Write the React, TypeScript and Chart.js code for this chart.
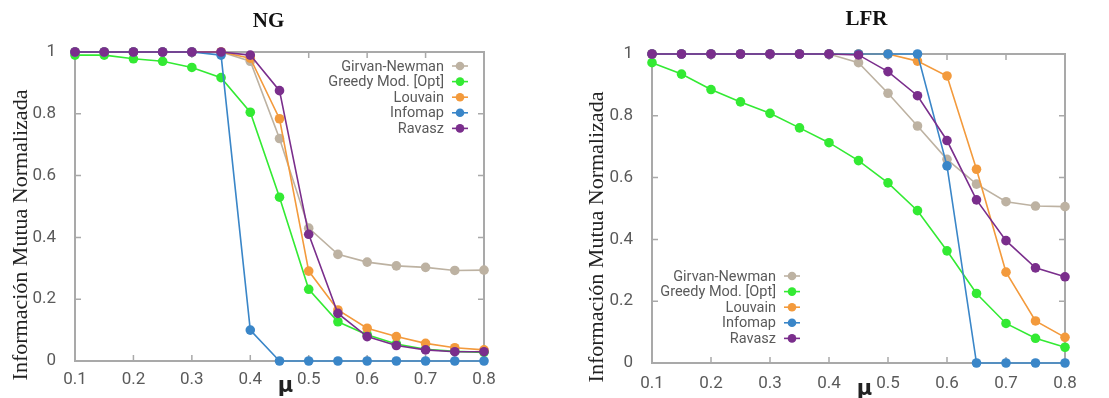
import React, { useEffect, useRef } from "react";
import { Chart, registerables } from "chart.js";

Chart.register(...registerables);

const mu = [0.1, 0.15, 0.2, 0.25, 0.3, 0.35, 0.4, 0.45, 0.5, 0.55, 0.6, 0.65, 0.7, 0.75, 0.8];
const xTicks = [0.1, 0.2, 0.3, 0.4, 0.5, 0.6, 0.7, 0.8];
const yTicks = [0, 0.2, 0.4, 0.6, 0.8, 1];
const seriesNames = ["Girvan-Newman", "Greedy Mod. [Opt]", "Louvain", "Infomap", "Ravasz"];
const seriesColors = ["#bdb2a2", "#33ea33", "#f39a3c", "#3a86c8", "#7a2e8c"];
const seriesOrder = [4, 3, 2, 1, 0];

// NG benchmark
const ngGirvan = [1, 1, 1, 1, 1, 1, 0.97, 0.72, 0.43, 0.345, 0.32, 0.308, 0.303, 0.293, 0.294];
const ngGreedy = [0.99, 0.99, 0.978, 0.97, 0.95, 0.917, 0.805, 0.53, 0.232, 0.127, 0.085, 0.055, 0.038, 0.031, 0.028];
const ngLouvain = [1, 1, 1, 1, 1, 1, 0.98, 0.784, 0.291, 0.165, 0.106, 0.079, 0.057, 0.043, 0.036];
const ngInfomap = [1, 1, 1, 1, 1, 0.99, 0.1, 0, 0, 0, 0, 0, 0, 0, 0];
const ngRavasz = [1, 1, 1, 1, 1, 1, 0.99, 0.875, 0.41, 0.154, 0.079, 0.05, 0.036, 0.03, 0.03];

// LFR benchmark
const lfrGirvan = [1, 1, 1, 1, 1, 1, 1, 0.972, 0.873, 0.767, 0.659, 0.579, 0.522, 0.508, 0.506];
const lfrGreedy = [0.972, 0.935, 0.885, 0.845, 0.808, 0.761, 0.713, 0.655, 0.583, 0.493, 0.363, 0.225, 0.128, 0.08, 0.051];
const lfrLouvain = [1, 1, 1, 1, 1, 1, 1, 1, 1, 0.977, 0.929, 0.627, 0.294, 0.136, 0.083];
const lfrInfomap = [1, 1, 1, 1, 1, 1, 1, 1, 1, 1, 0.638, 0, 0, 0, 0];
const lfrRavasz = [1, 1, 1, 1, 1, 1, 1, 0.997, 0.943, 0.865, 0.72, 0.528, 0.396, 0.308, 0.279];

const yTitle = "Información Mutua Normalizada";
const xTitle = "μ";

type PanelCfg = {
  title: string;
  series: number[][];
  width: number;
  padTop: number;
  padRight: number;
  yWidth: number;
  xHeight: number;
  xTickPad: number;
  titleDx: number;
  titleY: number;
  yTitleX: number;
  yTitleY: number;
  xTitleDx: number;
  xTitleDy: number;
  legendX: number;
  legendY: number;
};

function Panel({ cfg }: { cfg: PanelCfg }) {
  const ref = useRef<HTMLCanvasElement | null>(null);
  useEffect(() => {
    if (!ref.current) return;
    const datasets = cfg.series.map((vals, i) => ({
      label: seriesNames[i],
      data: mu.map((m, k) => ({ x: m, y: vals[k] })),
      borderColor: seriesColors[i],
      backgroundColor: seriesColors[i],
      pointBackgroundColor: seriesColors[i],
      pointBorderColor: seriesColors[i],
      borderWidth: 1.6,
      pointRadius: 4.8,
      pointBorderWidth: 0,
      order: seriesOrder[i],
      clip: false as any,
      tension: 0,
    }));

    const deco = {
      id: "deco",
      beforeDatasetsDraw(chart: any) {
        const { ctx, chartArea: a, scales } = chart;
        ctx.save();
        ctx.strokeStyle = "#a9a9a9";
        ctx.lineWidth = 2;
        ctx.strokeRect(a.left, a.top, a.right - a.left, a.bottom - a.top);
        ctx.lineWidth = 1.5;
        const L = 6;
        xTicks.forEach((t) => {
          const x = scales.x.getPixelForValue(t);
          ctx.beginPath();
          ctx.moveTo(x, a.bottom);
          ctx.lineTo(x, a.bottom - L);
          ctx.moveTo(x, a.top);
          ctx.lineTo(x, a.top + L);
          ctx.stroke();
        });
        yTicks.forEach((t) => {
          const y = scales.y.getPixelForValue(t);
          ctx.beginPath();
          ctx.moveTo(a.left, y);
          ctx.lineTo(a.left + L, y);
          ctx.moveTo(a.right, y);
          ctx.lineTo(a.right - L, y);
          ctx.stroke();
        });
        ctx.restore();
      },
      afterDraw(chart: any) {
        const { ctx, chartArea: a } = chart;
        ctx.save();
        // title
        ctx.fillStyle = "#111";
        ctx.font = "bold 21px 'Liberation Serif', serif";
        ctx.textAlign = "center";
        ctx.textBaseline = "middle";
        ctx.fillText(cfg.title, (a.left + a.right) / 2 + cfg.titleDx, cfg.titleY);
        // y title
        ctx.save();
        ctx.translate(cfg.yTitleX, cfg.yTitleY);
        ctx.rotate(-Math.PI / 2);
        ctx.font = "22px 'Liberation Serif', serif";
        ctx.fillStyle = "#222";
        ctx.fillText(yTitle, 0, 0);
        ctx.restore();
        // x title
        ctx.font = "bold 21px 'DejaVu Sans', sans-serif";
        ctx.fillStyle = "#222";
        ctx.fillText(xTitle, (a.left + a.right) / 2 + cfg.xTitleDx, a.bottom + cfg.xTitleDy);
        // legend
        ctx.font = "14.5px Roboto, sans-serif";
        ctx.textAlign = "right";
        seriesNames.forEach((name, i) => {
          const y = cfg.legendY + i * 15.6;
          ctx.fillStyle = "#5a5a5a";
          ctx.fillText(name, cfg.legendX - 16, y + 1);
          ctx.strokeStyle = seriesColors[i];
          ctx.lineWidth = 1.6;
          ctx.beginPath();
          ctx.moveTo(cfg.legendX - 8, y);
          ctx.lineTo(cfg.legendX + 8, y);
          ctx.stroke();
          ctx.fillStyle = seriesColors[i];
          ctx.beginPath();
          ctx.arc(cfg.legendX, y, 4.3, 0, Math.PI * 2);
          ctx.fill();
        });
        ctx.restore();
      },
    };

    const chart = new Chart(ref.current, {
      type: "line",
      data: { datasets: datasets as any },
      options: {
        responsive: false,
        animation: false,
        layout: { padding: { top: cfg.padTop, right: cfg.padRight, left: 0, bottom: 0 } },
        plugins: { legend: { display: false }, tooltip: { enabled: false }, title: { display: false } },
        scales: {
          x: {
            type: "linear",
            min: 0.1,
            max: 0.8,
            afterBuildTicks: (s: any) => {
              s.ticks = xTicks.map((v) => ({ value: v }));
            },
            afterFit: (s: any) => {
              s.height = cfg.xHeight;
            },
            grid: { display: false },
            border: { display: false },
            ticks: {
              padding: cfg.xTickPad,
              color: "#5a5a5a",
              font: { family: "Roboto, sans-serif", size: 17 },
              maxRotation: 0,
              autoSkip: false,
              callback: (v: any) => String(Number(Number(v).toFixed(1))),
            },
          },
          y: {
            type: "linear",
            min: 0,
            max: 1,
            afterBuildTicks: (s: any) => {
              s.ticks = yTicks.map((v) => ({ value: v }));
            },
            afterFit: (s: any) => {
              s.width = cfg.yWidth;
            },
            grid: { display: false },
            border: { display: false },
            ticks: {
              padding: 11,
              color: "#5a5a5a",
              font: { family: "Roboto, sans-serif", size: 17 },
              autoSkip: false,
              callback: (v: any) => String(Number(Number(v).toFixed(1))),
            },
          },
        },
      },
      plugins: [deco],
    });
    return () => chart.destroy();
  }, [cfg]);
  return <canvas ref={ref} width={cfg.width} height={398} style={{ width: cfg.width, height: 398, display: "block" }} />;
}

const ngCfg: PanelCfg = {
  title: "NG",
  series: [ngGirvan, ngGreedy, ngLouvain, ngInfomap, ngRavasz],
  width: 555,
  padTop: 52,
  padRight: 71,
  yWidth: 75,
  xHeight: 37,
  xTickPad: 1,
  titleDx: -11,
  titleY: 22,
  yTitleX: 21,
  yTitleY: 235,
  xTitleDx: 6,
  xTitleDy: 26,
  legendX: 460,
  legendY: 66,
};

const lfrCfg: PanelCfg = {
  title: "LFR",
  series: [lfrGirvan, lfrGreedy, lfrLouvain, lfrInfomap, lfrRavasz],
  width: 554,
  padTop: 54,
  padRight: 44,
  yWidth: 97,
  xHeight: 35,
  xTickPad: 3,
  titleDx: 8,
  titleY: 20,
  yTitleX: 42,
  yTitleY: 237,
  xTitleDx: 6,
  xTitleDy: 27,
  legendX: 237,
  legendY: 276,
};

export default function App() {
  return (
    <div style={{ position: "fixed", left: 0, top: 0, width: 1109, height: 398, background: "#fff", display: "flex" }}>
      <Panel cfg={ngCfg} />
      <Panel cfg={lfrCfg} />
    </div>
  );
}
